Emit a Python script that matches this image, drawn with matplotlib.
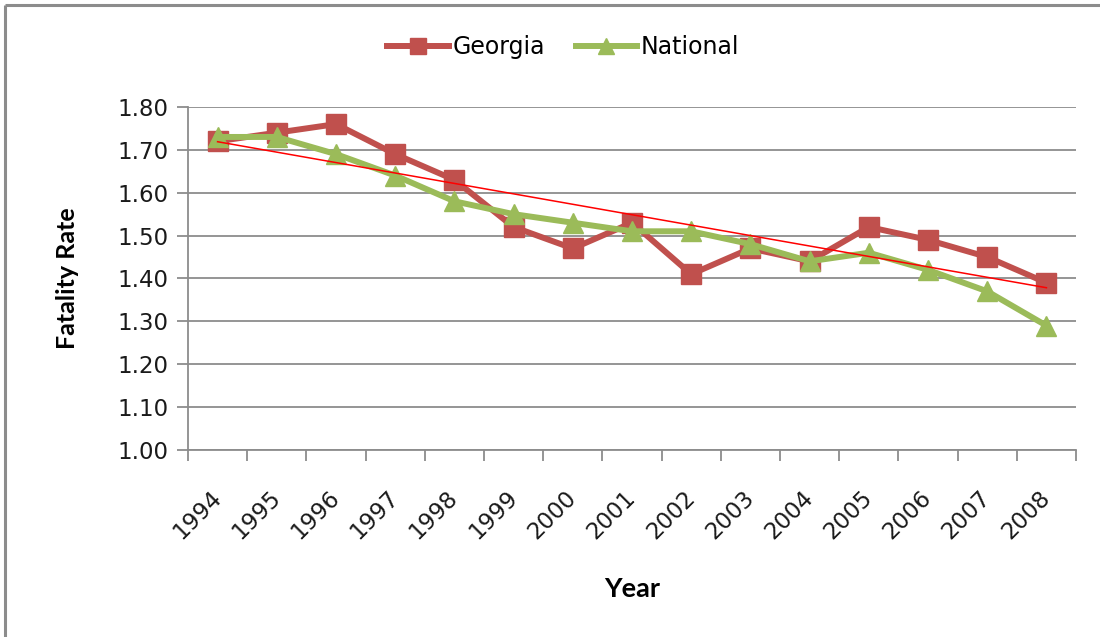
import numpy as np
import matplotlib.pyplot as plt
from matplotlib.lines import Line2D
from matplotlib.transforms import ScaledTranslation

# Fatality rates per 100 million VMT
years = ['1994', '1995', '1996', '1997', '1998', '1999', '2000', '2001',
         '2002', '2003', '2004', '2005', '2006', '2007', '2008']
georgia = [1.72, 1.74, 1.76, 1.69, 1.63, 1.52, 1.47, 1.53,
           1.41, 1.47, 1.44, 1.52, 1.49, 1.45, 1.39]
national = [1.73, 1.73, 1.69, 1.64, 1.58, 1.55, 1.53, 1.51,
            1.51, 1.48, 1.44, 1.46, 1.42, 1.37, 1.29]

ga_color = '#C0504D'
nat_color = '#9BBB59'
grid_color = '#8C8C8C'

fig = plt.figure(figsize=(11, 6.37), dpi=100)
ax = fig.add_axes([0.1709, 0.2936, 0.8073, 0.5385])

x = np.arange(len(years))
ax.plot(x, georgia, color=ga_color, lw=4.3, marker='s', ms=14,
        mec=ga_color, mfc=ga_color, zorder=3)
ax.plot(x, national, color=nat_color, lw=4.3, marker='^', ms=15,
        mec=nat_color, mfc=nat_color, zorder=4)

# linear trend of the Georgia series
slope, intercept = np.polyfit(x, georgia, 1)
ax.plot(x[[0, -1]], slope * x[[0, -1]] + intercept, color='#FF0000',
        lw=1.1, zorder=5)

ax.set_xlim(-0.5, len(years) - 0.5)
ax.set_ylim(1.0, 1.8)
ax.set_yticks(np.arange(1.0, 1.81, 0.1))
ax.set_yticklabels([f'{v:.2f}' for v in np.arange(1.0, 1.81, 0.1)])
ax.yaxis.grid(True, color=grid_color, lw=1.3)
ax.set_axisbelow(True)

# category ticks sit between the years
ax.set_xticks(x)
ax.set_xticklabels(years, rotation=45, ha='right', va='top',
                   rotation_mode='anchor')
ax.set_xticks(np.arange(-0.5, len(years)), minor=True)
ax.tick_params(axis='x', which='major', length=0, pad=26, labelsize=16.5,
               labelcolor='#1a1a1a')
ax.tick_params(axis='x', which='minor', length=8, width=1.3, color=grid_color,
               direction='out')
ax.tick_params(axis='y', length=8, width=1.3, color=grid_color, pad=6,
               labelsize=16.5, labelcolor='#1a1a1a')

# small nudge of the slanted year labels
shift = ScaledTranslation(-8 / 100, 0, fig.dpi_scale_trans)
for lbl in ax.get_xticklabels():
    lbl.set_transform(lbl.get_transform() + shift)

for side in ['top', 'right']:
    ax.spines[side].set_visible(False)
for side in ['left', 'bottom']:
    ax.spines[side].set_color(grid_color)
    ax.spines[side].set_linewidth(1.3)

ax.set_ylabel('Fatality Rate', fontsize=18, fontweight='bold',
              family='Lato', labelpad=28)
ax.set_xlabel('Year', fontsize=19.5, fontweight='bold', family='Lato',
              labelpad=24)

handles = [
    Line2D([], [], color=ga_color, lw=4.3, marker='s', ms=12),
    Line2D([], [], color=nat_color, lw=4.3, marker='^', ms=12),
]
fig.legend(handles, ['Georgia', 'National'], loc='center',
           bbox_to_anchor=(0.512, 0.926), ncol=2, frameon=False,
           fontsize=17, handlelength=2.6, handletextpad=0.15,
           columnspacing=1.3)

# outer chart frame
fig.add_artist(Line2D([0.0045, 1.0], [0.992, 0.992], color='#8C8C8C',
                      lw=2.2, solid_capstyle='butt',
                      transform=fig.transFigure))
fig.add_artist(Line2D([0.0045, 0.0045], [0.0, 0.992], color='#8C8C8C',
                      lw=2.2, solid_capstyle='butt',
                      transform=fig.transFigure))

fig.savefig('out.png', dpi=100)
